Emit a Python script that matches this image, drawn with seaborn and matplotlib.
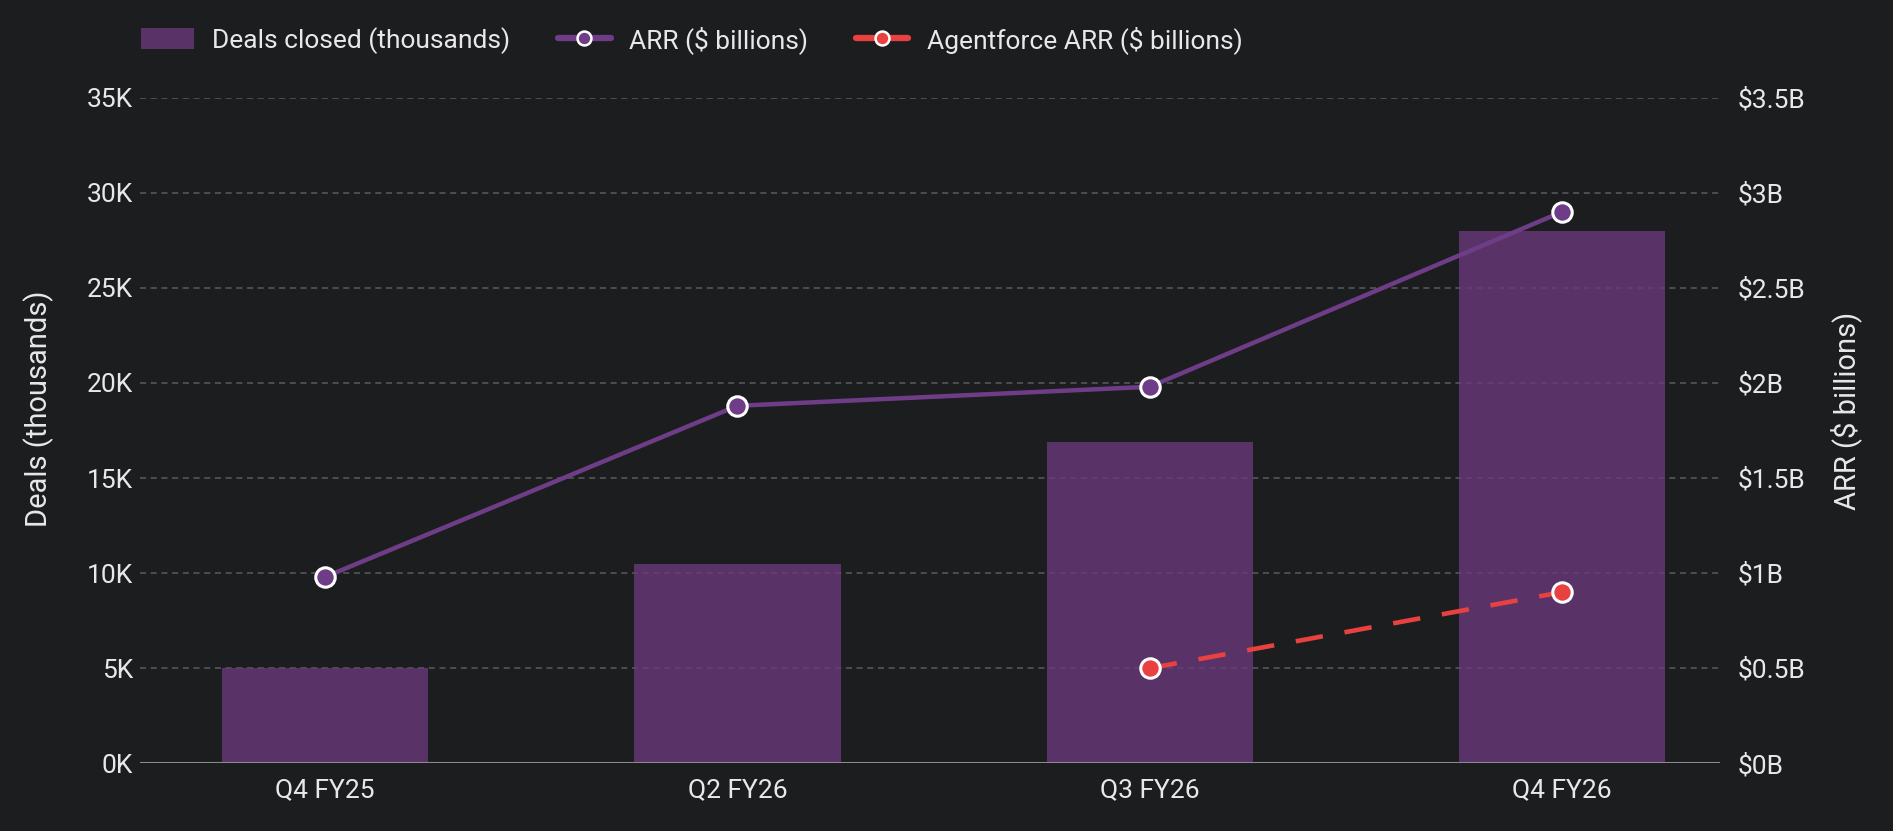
import matplotlib
matplotlib.use("Agg")
import matplotlib.pyplot as plt
import seaborn as sns
import pandas as pd
import numpy as np
from matplotlib.lines import Line2D
from matplotlib.patches import Patch
from matplotlib.ticker import FuncFormatter, MultipleLocator

# ---- data ----
quarters = ["Q4 FY25", "Q2 FY26", "Q3 FY26", "Q4 FY26"]
deals_k = [5.0, 10.5, 16.9, 28.0]            # thousands of deals
arr_b = [0.98, 1.88, 1.98, 2.9]              # $ billions
agentforce_quarters = ["Q3 FY26", "Q4 FY26"]
agentforce_arr_b = [0.5, 0.9]                # $ billions

legend_labels = ["Deals closed (thousands)", "ARR ($ billions)", "Agentforce ARR ($ billions)"]
left_label = "Deals (thousands)"
right_label = "ARR ($ billions)"

# ---- style ----
BG = "#1c1d1f"
TXT = "#e8e8e8"
GRID = "#5a5b5e"
BAR = "#6b3a7d"
LINE = "#6f3d88"
RED = "#e8413f"

sns.set_theme(style="dark")
plt.rcParams["font.family"] = ["Roboto", "DejaVu Sans"]
plt.rcParams["axes.unicode_minus"] = False

fig = plt.figure(figsize=(18.93, 8.31), dpi=100, facecolor=BG)
ax = fig.add_axes([140 / 1893, 1 - 763.3 / 831, (1720 - 140) / 1893, (763.3 - 97.7) / 831])
ax.set_facecolor(BG)

df = pd.DataFrame({"quarter": quarters, "deals": deals_k, "arr": arr_b})
sns.barplot(data=df, x="quarter", y="deals", order=quarters, color=BAR, alpha=0.78,
            width=0.5, saturation=1, ax=ax, zorder=2, edgecolor="none")

ax.set_ylim(0, 35)
ax.yaxis.set_major_locator(MultipleLocator(5))
ax.yaxis.set_major_formatter(FuncFormatter(lambda v, p: f"{v:g}K"))
ax.grid(axis="y", color=GRID, linestyle=(0, (4, 3)), linewidth=1.1, zorder=1)
ax.grid(axis="x", visible=False)
ax.set_axisbelow(True)
for s in ax.spines.values():
    s.set_visible(False)
ax.axhline(0, color="#8a8a8a", linewidth=1.5, zorder=3)
ax.tick_params(axis="both", length=0, colors=TXT, labelsize=19)
ax.tick_params(axis="y", pad=5)
ax.tick_params(axis="x", pad=11)
ax.set_xlabel("")
ax.set_ylabel(left_label, color=TXT, fontsize=21)
ax.yaxis.set_label_coords(-0.0544, 0.533)

ax2 = ax.twinx()
ax2.set_facecolor("none")
df2 = pd.DataFrame({"quarter": agentforce_quarters, "arr": agentforce_arr_b})
sns.pointplot(data=df, x="quarter", y="arr", order=quarters, color=LINE, markers="o",
              linestyles="-", errorbar=None, ax=ax2, markersize=14,
              markerfacecolor=LINE, markeredgecolor="white", markeredgewidth=2.2,
              linewidth=3.2)
sns.pointplot(data=df2, x="quarter", y="arr", order=quarters, color=RED, markers="o",
              linestyles=(0, (6, 4.8)), errorbar=None, ax=ax2, markersize=14,
              markerfacecolor=RED, markeredgecolor="white", markeredgewidth=2.2,
              linewidth=3.3)
ax2.set_ylim(0, 3.5)
ax2.yaxis.set_major_locator(MultipleLocator(0.5))
ax2.yaxis.set_major_formatter(FuncFormatter(lambda v, p: f"${v:g}B"))
ax2.grid(False)
for s in ax2.spines.values():
    s.set_visible(False)
ax2.tick_params(axis="both", length=0, colors=TXT, labelsize=19)
ax2.tick_params(axis="y", pad=13)
ax2.set_xlabel("")
ax2.set_ylabel(right_label, color=TXT, fontsize=21)
ax2.yaxis.set_label_coords(1.0697, 0.53)

ax.set_xlim(-0.449, 3.383)

handles = [
    Patch(facecolor=BAR, alpha=0.78, edgecolor="none"),
    Line2D([0], [0], color=LINE, linewidth=4.5, marker="o", markersize=10,
           markerfacecolor=LINE, markeredgecolor="white", markeredgewidth=1.8),
    Line2D([0], [0], color=RED, linewidth=4.5, marker="o", markersize=10,
           markerfacecolor=RED, markeredgecolor="white", markeredgewidth=1.8),
]
leg = fig.legend(handles, legend_labels, loc="center left",
                 bbox_to_anchor=(141 / 1893, 1 - 40 / 831), ncol=3, frameon=False,
                 fontsize=19, handlelength=2.0, handleheight=0.85, handletextpad=0.7,
                 columnspacing=1.8, borderaxespad=0, borderpad=0)
for t in leg.get_texts():
    t.set_color(TXT)

fig.savefig("out.png", dpi=100, facecolor=BG)
